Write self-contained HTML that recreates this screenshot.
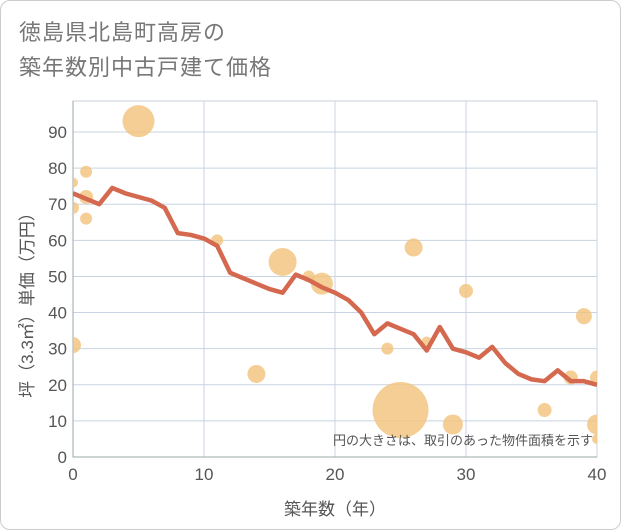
<!DOCTYPE html>
<html><head><meta charset="utf-8"><style>
body{margin:0;background:#fff;}
.card{position:absolute;left:0;top:0;width:619px;height:528px;border:1px solid #ccc;border-radius:10px;background:#fff;overflow:hidden}
.title{position:absolute;left:18px;top:14px;font:22px "Liberation Sans","Noto Sans CJK JP",sans-serif;color:#777;line-height:35px;letter-spacing:1px}
</style></head><body>
<div class="card">
<div class="title">徳島県北島町高房の<br>築年数別中古戸建て価格</div>
<svg id="c" width="621" height="530" style="position:absolute;left:0;top:0"></svg>
</div>
<script>
const lineX=[0,1,2,3,4,5,6,7,8,9,10,11,12,13,14,15,16,17,18,19,20,21,22,23,24,25,26,27,28,29,30,31,32,33,34,35,36,37,38,39,40];
const lineY=[73,71.5,70,74.5,73,72,71,69,62,61.5,60.5,58.5,51,49.5,48,46.5,45.5,50.5,49,47,45.5,43.5,40,34,37,35.5,34,29.5,36,30,29,27.5,30.5,26,23,21.5,21,24,21,21,20];
const bubX=[0,0,0,1,1,1,5,11,14,16,18,19,24,25,26,27,29,30,36,38,39,40,40,40];
const bubY=[76,69,31,79,72,66,93,60,23,54,50,48,30,13,58,32,9,46,13,22,39,22,9,5];
const bubR=[5,6,8,6,7,6,16,6,9,14,6,11,6,28,9,5,10,7,7,7,8,7,10,5];
const xTicks=[0,10,20,30,40];
const yTicks=[0,10,20,30,40,50,60,70,80,90];
const NS='http://www.w3.org/2000/svg';
const svg=document.getElementById('c');
const L=72,R=596,T=100,B=456;
const xs=v=>L+(R-L)*v/40, ys=v=>B-(B-131)*v/90;
function mk(t,a,p){const e=document.createElementNS(NS,t);for(const k in a)e.setAttribute(k,a[k]);(p||svg).appendChild(e);return e;}
const clip=mk('clipPath',{id:'cp'});mk('rect',{x:L,y:T,width:R-L,height:B-T},clip);
mk('rect',{x:L,y:T,width:R-L,height:B-T,fill:'#fff',stroke:'#c8d0da'});
yTicks.forEach(v=>{const g=mk('line',{x1:L,x2:R,y1:ys(v),y2:ys(v),stroke:'#c8d4e2','stroke-width':1});

const t=mk('text',{x:L-6,y:ys(v)+6,'text-anchor':'end','font-size':17,fill:'#555','font-family':'Liberation Sans,sans-serif'});t.textContent=v;
});
xTicks.forEach(v=>{const g=mk('line',{x1:xs(v),x2:xs(v),y1:T,y2:B,stroke:'#c8d4e2'});

const t=mk('text',{x:xs(v),y:B+23,'text-anchor':'middle','font-size':17,fill:'#555','font-family':'Liberation Sans,sans-serif'});t.textContent=v;
});
mk('line',{x1:L,x2:L,y1:T,y2:B,stroke:'#9aa',});mk('line',{x1:L,x2:R,y1:B,y2:B,stroke:'#9aa'});
const gb=mk('g',{'clip-path':'url(#cp)'});
bubX.forEach((x,i)=>{const c=mk('circle',{cx:xs(x),cy:ys(bubY[i]),r:bubR[i],fill:'#f3c27a','fill-opacity':0.8},gb);
});
const p=mk('polyline',{points:lineX.map((x,i)=>xs(x)+','+ys(lineY[i])).join(' '),fill:'none',stroke:'#d4694f','stroke-width':4.5,'stroke-linejoin':'round'},gb);

const n=mk('text',{x:592,y:444,'text-anchor':'end','font-size':13,fill:'#555','font-family':'Liberation Sans,Noto Sans CJK JP,sans-serif'});n.textContent='円の大きさは、取引のあった物件面積を示す';

const xt=mk('text',{x:334,y:514,'text-anchor':'middle','font-size':17,fill:'#555','font-family':'Liberation Sans,Noto Sans CJK JP,sans-serif'});xt.textContent='築年数（年）';

const yt=mk('text',{x:0,y:0,'text-anchor':'middle','font-size':17,fill:'#555',transform:'translate(32,300) rotate(-90)','font-family':'Liberation Sans,Noto Sans CJK JP,sans-serif'});yt.textContent='坪（3.3㎡）単価（万円）';

</script>
</body></html>
